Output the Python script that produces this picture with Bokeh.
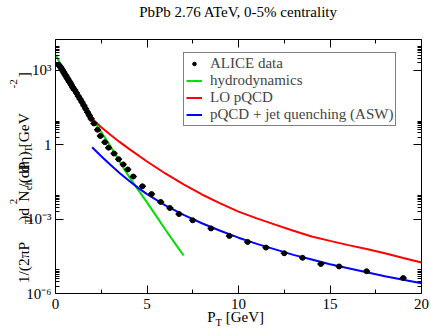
import math
from bokeh.plotting import figure
from bokeh.models import (FixedTicker, LinearAxis, LogAxis, Legend, LegendItem,
                          Range1d, CustomJSTickFormatter)
from bokeh.embed import file_html
from bokeh.resources import INLINE

# ---------------- data ----------------
alice_pt = [0.175, 0.225, 0.275, 0.325, 0.375, 0.425, 0.475, 0.525, 0.575, 0.625,
            0.675, 0.725, 0.775, 0.825, 0.875, 0.925, 0.975, 1.05, 1.15, 1.25,
            1.35, 1.45, 1.55, 1.65, 1.75, 1.85, 1.95, 2.1, 2.3, 2.45,
            2.7, 2.9, 3.2, 3.45, 3.7, 3.95, 4.25, 4.75, 5.25, 5.75,
            6.25, 6.75, 7.5, 8.5, 9.5, 10.5, 11.5, 12.5, 13.5, 14.5,
            15.5, 17.0, 19.0]
alice_y = [1660, 1480, 1320, 1175, 1020, 890, 760, 660, 590, 500,
           440, 380, 330, 290, 250, 215, 185, 160, 120, 89,
           68, 51, 38, 28, 20.4, 15.1, 11.0, 7.2, 4.0, 2.24,
           1.26, 0.76, 0.44, 0.26, 0.16, 0.10, 0.052, 0.021, 0.0102, 0.0049,
           0.0028, 0.0016, 8.9e-4, 4.2e-4, 2.1e-4, 1.2e-4, 7.1e-5, 4.2e-5, 2.75e-5, 1.55e-5,
           1.23e-5, 7.9e-6, 4.2e-6]

hydro_pt = [0, 0.5, 1, 1.5, 2, 2.5, 3, 3.5, 4, 4.5, 5, 5.5, 6, 6.5, 7]
hydro_y = [4200, 850, 182, 43, 11.5, 3.2, 0.87, 0.21, 0.054, 0.0158,
           0.0047, 0.00135, 3.8e-4, 1.12e-4, 3.4e-5]

lo_pt = [2, 2.5, 3, 3.5, 4, 5, 6, 7, 8, 9, 10, 11, 12, 13, 14, 15, 16, 17, 18, 19, 20]
lo_y = [11.0, 5.0, 2.5, 1.29, 0.69, 0.21, 0.069, 0.025, 0.0098, 0.0043, 0.0020,
        1.07e-3, 6.0e-4, 3.4e-4, 2.0e-4, 1.32e-4, 8.9e-5, 6.2e-5, 4.2e-5, 2.7e-5, 1.78e-5]

asw_pt = [2, 2.5, 3, 3.5, 4, 4.5, 5, 6, 7, 8, 9, 10, 11, 12, 13, 14, 15, 16, 17, 18, 19, 20]
asw_y = [0.79, 0.34, 0.155, 0.072, 0.036, 0.0186, 0.0102, 0.0036, 0.00148, 6.8e-4,
         3.4e-4, 1.78e-4, 1.0e-4, 6.0e-5, 3.6e-5, 2.34e-5, 1.51e-5, 1.05e-5, 7.2e-6,
         5.0e-6, 3.6e-6, 2.6e-6]

x_ticks = [0, 5, 10, 15, 20]
x_minor_ticks = [2.5, 7.5, 12.5, 17.5]
y_ticks = [1e-6, 1e-3, 1, 1e3]
y_tick_labels = ["10\u207b\u2076", "10\u207b\u00b3", "1", "10\u00b3"]

title_text = "PbPb 2.76 ATeV, 0-5% centrality"
legend_labels = ["ALICE data", "hydrodynamics", "LO pQCD", "pQCD + jet quenching (ASW)"]
# axis labels split into (text, kind): 0 normal, -1 subscript, 1 superscript
ylabel_parts = [("1/(2\u03c0P", 0), ("T", -1), (")d", 0), ("2", 1), ("N", 0), ("ch", -1),
                ("/(dP", 0), ("T", -1), ("d\u03b7) [GeV", 0), ("-2", 1), ("]", 0)]
xlabel_parts = [("P", 0), ("T", -1), (" [GeV]", 0)]

# ---------------- styling ----------------
FONT = "Liberation Serif"
FS = 15
SFS = 10.5
YFS, YSFS = 15.5, 11
GREEN, RED, BLUE = "#00e000", "#ff0000", "#0000ff"

W = {'1': .5, '2': .5, '/': .278, '(': .333, ')': .333, '\u03c0': .549, 'P': .556,
     'T': .611, 'd': .5, 'N': .722, 'c': .444, 'h': .5, '\u03b7': .5, ' ': .25,
     '[': .333, ']': .333, 'G': .722, 'e': .444, 'V': .722, '-': .333}


def tw(s, size):
    return sum(W.get(ch, 0.5) for ch in s) * size


FL, FR, FT, FB = 55, 10, 37, 37
WIDTH, HEIGHT = 431, 330
FW, FH = WIDTH - FL - FR, HEIGHT - FT - FB
X0, X1 = 0, 20
LOG_Y0, LOG_Y1 = -6, 4.24
PPD = FH / (LOG_Y1 - LOG_Y0)     # pixels per decade

p = figure(width=WIDTH, height=HEIGHT, y_axis_type="log",
           x_range=Range1d(X0, X1), y_range=Range1d(10 ** LOG_Y0, 10 ** LOG_Y1),
           output_backend="svg", toolbar_location=None,
           min_border_left=FL, min_border_right=FR, min_border_top=FT, min_border_bottom=FB)
p.outline_line_color = None
p.xgrid.visible = False
p.ygrid.visible = False
p.background_fill_color = "white"
p.border_fill_color = "white"

FMT_CODE = """
let best = -1, bd = Infinity;
for (let i = 0; i < tvals.length; i++) {
  const d = islog ? Math.abs(Math.log10(tvals[i]) - Math.log10(tick)) : Math.abs(tvals[i] - tick);
  if (d < bd) { bd = d; best = i; }
}
return (best >= 0 && bd < 1e-6) ? tlabs[best] : '';
"""


def text_fmt(vals, labs, log):
    return CustomJSTickFormatter(args=dict(tvals=list(vals), tlabs=list(labs), islog=log), code=FMT_CODE)


xt = FixedTicker(ticks=x_ticks, minor_ticks=x_minor_ticks)
yt = FixedTicker(ticks=y_ticks, minor_ticks=[m * t for t in y_ticks for m in range(2, 10)])


def style(ax):
    ax.major_tick_in = 8
    ax.major_tick_out = 0
    ax.minor_tick_in = 4
    ax.minor_tick_out = 0
    ax.axis_line_color = "black"
    ax.major_tick_line_color = "black"
    ax.minor_tick_line_color = "black"
    ax.major_label_text_font = FONT
    ax.major_label_text_font_size = f"{FS}px"
    ax.major_label_text_color = "black"


p.xaxis.ticker = xt
p.yaxis.ticker = yt
p.yaxis.formatter = text_fmt(y_ticks, y_tick_labels, True)
style(p.xaxis[0])
style(p.yaxis[0])
p.xaxis.major_label_standoff = 5
p.yaxis.major_label_standoff = 4

# mirror axes; the title is the top axis' label over the middle tick
top_ax = LinearAxis(ticker=xt, major_label_standoff=20,
                    formatter=text_fmt([(X0 + X1) / 2], [title_text], False))
right_ax = LogAxis(ticker=yt, major_label_standoff=0, formatter=text_fmt([], [], True))
style(top_ax)
style(right_ax)
p.add_layout(top_ax, "above")
p.add_layout(right_ax, "right")


def label_axis(cls, vals, labs, size, standoff, log, angle):
    return cls(ticker=FixedTicker(ticks=vals, minor_ticks=[]), formatter=text_fmt(vals, labs, log),
               major_label_standoff=standoff, axis_line_color=None,
               major_tick_line_color=None, minor_tick_line_color=None,
               major_tick_in=0, major_tick_out=0, minor_tick_in=0, minor_tick_out=0,
               major_label_text_font=FONT, major_label_text_font_size=f"{size}px",
               major_label_text_color="black", major_label_orientation=angle)


def place(parts, start, big, small):
    """centre (px along the label) and visible text of each piece; spaces only advance."""
    pos = {0: [], -1: [], 1: []}
    txts = {0: [], -1: [], 1: []}
    off = start
    for txt, kind in parts:
        size = big if kind == 0 else small
        lead = tw(txt[:len(txt) - len(txt.lstrip())], size)
        core = txt.strip()
        pos[kind].append(off + lead + tw(core, size) / 2)
        txts[kind].append(core)
        off += tw(txt, size)
    return pos, txts


# y label pieces: centres in pixels above the frame bottom
ypx, ytxt = place(ylabel_parts, 31.0, YFS, YSFS)
ypos = {k: [10 ** (LOG_Y0 + v / PPD) for v in vs] for k, vs in ypx.items()}
p.add_layout(label_axis(LogAxis, ypos[-1], ytxt[-1], YSFS, -5, True, math.pi / 2), "left")
p.add_layout(label_axis(LogAxis, ypos[0], ytxt[0], YFS, -10, True, math.pi / 2), "left")
p.add_layout(label_axis(LogAxis, ypos[1], ytxt[1], YSFS, -10, True, math.pi / 2), "left")

# x label pieces: centres in pixels right of the frame's left edge
xpx, xtxt = place(xlabel_parts, 151.7, FS, SFS)
xpos = {k: [X0 + v / FW * (X1 - X0) for v in vs] for k, vs in xpx.items()}
p.add_layout(label_axis(LinearAxis, xpos[0], xtxt[0], FS, -3, False, "horizontal"), "below")
p.add_layout(label_axis(LinearAxis, xpos[-1], xtxt[-1], SFS, -11, False, "horizontal"), "below")

# ---------------- glyphs ----------------
r_h = p.line(hydro_pt, hydro_y, line_color=GREEN, line_width=2)
r_lo = p.line(lo_pt, lo_y, line_color=RED, line_width=2)
r_asw = p.line(asw_pt, asw_y, line_color=BLUE, line_width=2)
p.scatter(alice_pt, alice_y, marker="dash", size=7, line_color="black", line_width=1.5)
r_d = p.scatter(alice_pt, alice_y, marker="circle", size=5, fill_color="black", line_color="black")

legend = Legend(items=[LegendItem(label=legend_labels[0], renderers=[r_d]),
                       LegendItem(label=legend_labels[1], renderers=[r_h]),
                       LegendItem(label=legend_labels[2], renderers=[r_lo]),
                       LegendItem(label=legend_labels[3], renderers=[r_asw])],
                location=(128, 167), margin=0, padding=2, spacing=0,
                label_height=16, glyph_height=9, glyph_width=16, label_standoff=8,
                border_line_color="black", border_line_width=1,
                background_fill_color="white", background_fill_alpha=1,
                label_text_font=FONT, label_text_font_size=f"{FS}px")
p.add_layout(legend, "center")

open("out.html", "w").write(file_html(p, INLINE))
